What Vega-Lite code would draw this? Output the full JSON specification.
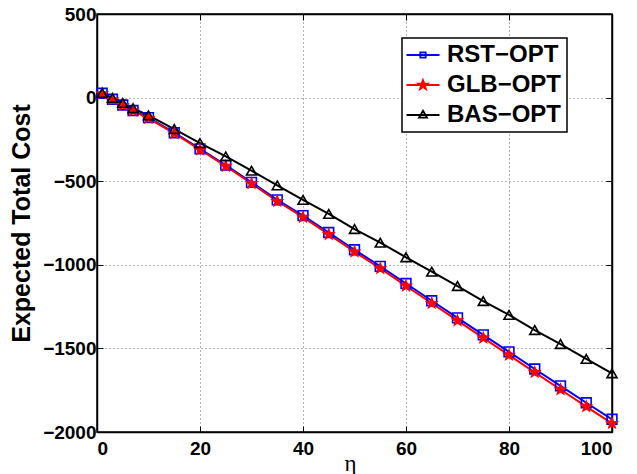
{
  "$schema": "https://vega.github.io/schema/vega-lite/v6.json",
  "width": 515,
  "height": 418,
  "autosize": "none",
  "padding": {"left": 97, "top": 14, "right": 25, "bottom": 42},
  "background": "white",
  "config": {
    "view": {"stroke": "black", "strokeWidth": 1.5},
    "font": "Liberation Sans"
  },
  "data": {
    "values": [
      {"eta": 1, "series": "RST−OPT", "cost": 26}, {"eta": 3, "series": "RST−OPT", "cost": -10}, {"eta": 5, "series": "RST−OPT", "cost": -44}, {"eta": 7, "series": "RST−OPT", "cost": -77}, {"eta": 10, "series": "RST−OPT", "cost": -120}, {"eta": 15, "series": "RST−OPT", "cost": -210}, {"eta": 20, "series": "RST−OPT", "cost": -307}, {"eta": 25, "series": "RST−OPT", "cost": -404}, {"eta": 30, "series": "RST−OPT", "cost": -507}, {"eta": 35, "series": "RST−OPT", "cost": -612}, {"eta": 40, "series": "RST−OPT", "cost": -706}, {"eta": 45, "series": "RST−OPT", "cost": -807}, {"eta": 50, "series": "RST−OPT", "cost": -910}, {"eta": 55, "series": "RST−OPT", "cost": -1009}, {"eta": 60, "series": "RST−OPT", "cost": -1112}, {"eta": 65, "series": "RST−OPT", "cost": -1215}, {"eta": 70, "series": "RST−OPT", "cost": -1317}, {"eta": 75, "series": "RST−OPT", "cost": -1419}, {"eta": 80, "series": "RST−OPT", "cost": -1521}, {"eta": 85, "series": "RST−OPT", "cost": -1623}, {"eta": 90, "series": "RST−OPT", "cost": -1724}, {"eta": 95, "series": "RST−OPT", "cost": -1825}, {"eta": 100, "series": "RST−OPT", "cost": -1924},
      {"eta": 1, "series": "GLB−OPT", "cost": 24}, {"eta": 3, "series": "GLB−OPT", "cost": -12}, {"eta": 5, "series": "GLB−OPT", "cost": -46}, {"eta": 7, "series": "GLB−OPT", "cost": -80}, {"eta": 10, "series": "GLB−OPT", "cost": -124}, {"eta": 15, "series": "GLB−OPT", "cost": -214}, {"eta": 20, "series": "GLB−OPT", "cost": -312}, {"eta": 25, "series": "GLB−OPT", "cost": -410}, {"eta": 30, "series": "GLB−OPT", "cost": -514}, {"eta": 35, "series": "GLB−OPT", "cost": -620}, {"eta": 40, "series": "GLB−OPT", "cost": -715}, {"eta": 45, "series": "GLB−OPT", "cost": -818}, {"eta": 50, "series": "GLB−OPT", "cost": -922}, {"eta": 55, "series": "GLB−OPT", "cost": -1022}, {"eta": 60, "series": "GLB−OPT", "cost": -1126}, {"eta": 65, "series": "GLB−OPT", "cost": -1230}, {"eta": 70, "series": "GLB−OPT", "cost": -1334}, {"eta": 75, "series": "GLB−OPT", "cost": -1437}, {"eta": 80, "series": "GLB−OPT", "cost": -1540}, {"eta": 85, "series": "GLB−OPT", "cost": -1643}, {"eta": 90, "series": "GLB−OPT", "cost": -1746}, {"eta": 95, "series": "GLB−OPT", "cost": -1848}, {"eta": 100, "series": "GLB−OPT", "cost": -1948},
      {"eta": 1, "series": "BAS−OPT", "cost": 28}, {"eta": 3, "series": "BAS−OPT", "cost": -2}, {"eta": 5, "series": "BAS−OPT", "cost": -32}, {"eta": 7, "series": "BAS−OPT", "cost": -64}, {"eta": 10, "series": "BAS−OPT", "cost": -106}, {"eta": 15, "series": "BAS−OPT", "cost": -188}, {"eta": 20, "series": "BAS−OPT", "cost": -272}, {"eta": 25, "series": "BAS−OPT", "cost": -352}, {"eta": 30, "series": "BAS−OPT", "cost": -437}, {"eta": 35, "series": "BAS−OPT", "cost": -525}, {"eta": 40, "series": "BAS−OPT", "cost": -612}, {"eta": 45, "series": "BAS−OPT", "cost": -696}, {"eta": 50, "series": "BAS−OPT", "cost": -786}, {"eta": 55, "series": "BAS−OPT", "cost": -868}, {"eta": 60, "series": "BAS−OPT", "cost": -955}, {"eta": 65, "series": "BAS−OPT", "cost": -1041}, {"eta": 70, "series": "BAS−OPT", "cost": -1127}, {"eta": 75, "series": "BAS−OPT", "cost": -1217}, {"eta": 80, "series": "BAS−OPT", "cost": -1300}, {"eta": 85, "series": "BAS−OPT", "cost": -1390}, {"eta": 90, "series": "BAS−OPT", "cost": -1474}, {"eta": 95, "series": "BAS−OPT", "cost": -1563}, {"eta": 100, "series": "BAS−OPT", "cost": -1649}
    ]
  },
  "layer": [
    {
      "mark": {"type": "line", "strokeWidth": 2},
      "encoding": {
        "x": {
          "field": "eta", "type": "quantitative",
          "scale": {"domain": [0, 100], "nice": false},
          "axis": {
            "orient": "bottom", "title": "η", "values": [0, 20, 40, 60, 80, 100], "format": "d",
            "grid": true, "gridDash": [1, 3], "gridColor": "#666", "gridWidth": 1,
            "tickSize": -6, "tickColor": "black", "tickWidth": 1,
            "domainColor": "black", "domainWidth": 1.5,
            "labelFont": "Liberation Sans", "labelFontWeight": "bold", "labelFontSize": 19, "labelColor": "black", "labelPadding": 13,
            "titleFont": "Liberation Serif", "titleFontWeight": "normal", "titleFontSize": 23, "titleColor": "black",
            "titleBaseline": "alphabetic", "titleY": 38, "titleX": 253
          }
        },
        "y": {
          "field": "cost", "type": "quantitative",
          "scale": {"domain": [-2000, 500], "nice": false},
          "axis": {
            "orient": "left", "title": "Expected Total Cost", "values": [-2000, -1500, -1000, -500, 0, 500], "format": "d",
            "grid": true, "gridDash": [1, 3], "gridColor": "#666", "gridWidth": 1,
            "tickSize": -6, "tickColor": "black", "tickWidth": 1,
            "domainColor": "black", "domainWidth": 1.5,
            "labelFont": "Liberation Sans", "labelFontWeight": "bold", "labelFontSize": 19, "labelColor": "black", "labelPadding": 7,
            "titleFont": "Liberation Sans", "titleFontWeight": "bold", "titleFontSize": 25, "titleColor": "black", "titlePadding": 8
          }
        },
        "color": {
          "field": "series", "type": "nominal", "sort": null,
          "scale": {"domain": ["RST−OPT", "GLB−OPT", "BAS−OPT"], "range": ["blue", "red", "black"]},
          "legend": {
            "title": null, "orient": "none", "legendX": 305, "legendY": 24,
            "fillColor": "white", "strokeColor": "black",
            "padding": 5, "rowPadding": 6, "symbolSize": 400, "symbolOffset": 4,
            "symbolStrokeWidth": 1.8, "labelOffset": 12,
            "labelFont": "Liberation Sans", "labelFontWeight": "bold", "labelFontSize": 24, "labelColor": "black",
            "encode": {
              "legend": {"update": {"strokeWidth": {"value": 1.5}}},
              "symbols": {
                "update": {
                  "shape": {"signal": "datum.value === 'RST−OPT' ? 'M-1.65,0H1.65M-0.27,-0.27H0.27V0.27H-0.27Z' : (datum.value === 'GLB−OPT' ? 'M-1.65,0H1.65M0,-0.5L0.122,-0.168L0.475,-0.154L0.199,0.064L0.294,0.404L0,0.208L-0.294,0.404L-0.199,0.064L-0.475,-0.154L-0.122,-0.168Z' : 'M-1.65,0H1.65M0,-0.42L0.4,0.26L-0.4,0.26Z')"},
                  "fill": {"signal": "datum.value === 'GLB−OPT' ? 'red' : 'transparent'"},
                  "fillOpacity": {"value": 1}
                }
              }
            }
          }
        }
      }
    },
    {
      "transform": [{"filter": "datum.series === 'RST−OPT'"}],
      "mark": {"type": "point", "shape": "square", "size": 95, "strokeWidth": 1.6, "opacity": 1, "filled": false, "color": "blue"},
      "encoding": {
        "x": {
          "field": "eta", "type": "quantitative",
          "axis": {"orient": "top", "title": null, "labels": false, "grid": false, "values": [0, 20, 40, 60, 80, 100], "tickSize": -6, "tickColor": "black", "domainColor": "black", "domainWidth": 1.5}
        },
        "y": {
          "field": "cost", "type": "quantitative",
          "axis": {"orient": "right", "title": null, "labels": false, "grid": false, "values": [-2000, -1500, -1000, -500, 0, 500], "tickSize": -6, "tickColor": "black", "domainColor": "black", "domainWidth": 1.5}
        }
      }
    },
    {
      "transform": [{"filter": "datum.series === 'GLB−OPT'"}],
      "mark": {"type": "point", "shape": "M0,-1L0.245,-0.336L0.951,-0.309L0.397,0.128L0.588,0.809L0,0.416L-0.588,0.809L-0.397,0.128L-0.951,-0.309L-0.245,-0.336Z", "size": 130, "strokeWidth": 1.2, "opacity": 1, "filled": true, "fill": "red", "stroke": "red"},
      "encoding": {
        "x": {"field": "eta", "type": "quantitative", "axis": null},
        "y": {"field": "cost", "type": "quantitative", "axis": null}
      }
    },
    {
      "transform": [{"filter": "datum.series === 'BAS−OPT'"}],
      "mark": {"type": "point", "shape": "triangle-up", "size": 100, "strokeWidth": 1.6, "opacity": 1, "filled": false, "color": "black"},
      "encoding": {
        "x": {"field": "eta", "type": "quantitative", "axis": null},
        "y": {"field": "cost", "type": "quantitative", "axis": null}
      }
    }
  ],
  "resolve": {"axis": {"x": "independent", "y": "independent"}}
}
